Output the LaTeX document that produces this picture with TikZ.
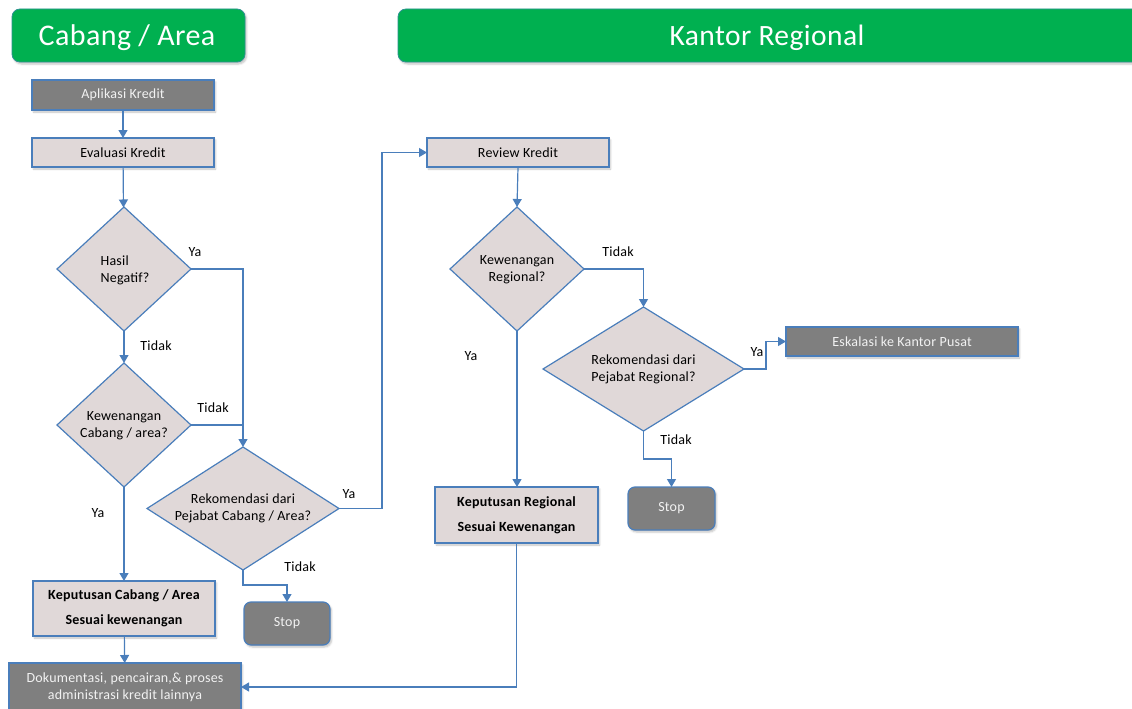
\documentclass[tikz,border=0pt]{standalone}
\usepackage{fontspec}
\setmainfont{Carlito}[LetterSpace=1.5]
\usetikzlibrary{arrows.meta,shapes.geometric,shadows.blur}
\definecolor{hdrgreen}{HTML}{00B050}
\definecolor{edgeblue}{HTML}{4A7EBB}
\definecolor{boxfill}{HTML}{E0D8D8}
\definecolor{darkbox}{HTML}{7F7F7F}
\tikzset{
  header/.style={fill=hdrgreen, draw=edgeblue!60!hdrgreen, line width=0.8pt,
    rounded corners=8pt, text=white, font=\fontsize{30}{32}\selectfont,
    blur shadow={shadow xshift=1.5pt, shadow yshift=-2pt, shadow opacity=25}},
  procbox/.style={rectangle, draw=edgeblue, line width=1.2pt, fill=boxfill,
    inner sep=0pt, outer sep=0pt, font=\fontsize{14}{16}\selectfont,
    blur shadow={shadow xshift=1.5pt, shadow yshift=-2pt, shadow opacity=25}},
  greybox/.style={procbox, fill=darkbox, text=white!95!black},
  stopbox/.style={greybox, rounded corners=7pt},
  decision/.style={diamond, draw=edgeblue, line width=1.2pt, fill=boxfill,
    inner sep=0pt, outer sep=0pt},
  dtext/.style={inner sep=0pt, align=center, font=\fontsize{14}{17}\selectfont},
  arr/.style={draw=edgeblue, line width=1.2pt, -{Triangle[width=9pt,length=8pt]}},
  ln/.style={draw=edgeblue, line width=1.2pt},
  lbl/.style={font=\fontsize{14}{16}\selectfont, inner sep=0pt}
}
\begin{document}
\begin{tikzpicture}[x=1pt,y=-1pt]
\useasboundingbox (0,0) rectangle (1132,709);

% lane headers
\node[header, minimum width=233pt, minimum height=53pt] (hcab) at (128.5,35.5) {};
\node[text=white, font=\fontsize{30}{32}\selectfont, inner sep=0pt] (hcab-t) at (127,37.5) {Cabang / Area};
\node[header, minimum width=750pt, minimum height=53pt] (hreg) at (773,35.5) {};
\node[text=white, font=\fontsize{29.5}{32}\selectfont, inner sep=0pt] (hreg-t) at (767,37.5) {Kantor Regional};

% branch / area lane
\node[greybox, minimum width=182pt, minimum height=30pt] (apl) at (123,95) {Aplikasi Kredit};
\node[procbox, minimum width=182pt, minimum height=29pt] (eva) at (123,152.5) {Evaluasi Kredit};
\node[decision, minimum width=134pt, minimum height=124pt] (hasil) at (124,269) {};
\node[dtext, align=left] (hasil-t) at (125,270.5) {Hasil\\Negatif?};
\node[decision, minimum width=134pt, minimum height=124pt] (kwc) at (124,425) {};
\node[dtext] (kwc-t) at (124,425.5) {Kewenangan\\Cabang / area?};
\node[decision, minimum width=192pt, minimum height=123pt] (rek) at (243,508.5) {};
\node[dtext] (rek-t) at (243,508) {Rekomendasi dari\\Pejabat Cabang / Area?};
\node[stopbox, minimum width=86pt, minimum height=43pt] (stop1) at (287,623.5) {Stop};
\node[procbox, minimum width=182pt, minimum height=55pt, align=center,
  font=\bfseries\fontsize{14}{25}\selectfont] (kcab) at (124,608.5)
  {Keputusan Cabang / Area\\Sesuai kewenangan};
\node[greybox, minimum width=232pt, minimum height=48pt, align=center,
  font=\fontsize{14}{17}\selectfont] (dok) at (125,687)
  {Dokumentasi, pencairan,\& proses\\administrasi kredit lainnya};

% regional office lane
\node[procbox, minimum width=182pt, minimum height=29pt] (rev) at (518,152.5) {Review Kredit};
\node[decision, minimum width=134pt, minimum height=124pt] (kwr) at (517,269) {};
\node[dtext] (kwr-t) at (517,269.5) {Kewenangan\\Regional?};
\node[decision, minimum width=201pt, minimum height=124pt] (rekr) at (643.5,369) {};
\node[dtext] (rekr-t) at (643.5,369.5) {Rekomendasi dari\\Pejabat Regional?};
\node[greybox, minimum width=232pt, minimum height=29pt] (esk) at (902,341.5) {Eskalasi ke Kantor Pusat};
\node[stopbox, minimum width=87pt, minimum height=43pt] (stop2) at (671.5,508.5) {Stop};
\node[procbox, minimum width=163pt, minimum height=56pt, align=center,
  font=\bfseries\fontsize{14}{25}\selectfont] (kreg) at (516.5,515)
  {Keputusan Regional\\Sesuai Kewenangan};

% junction points of the routed connectors
\coordinate (jrek) at (382,508.5);
\coordinate (jrekr) at (766,369);

% connectors
\draw[arr] (apl) -- (eva);
\draw[arr] (eva) -- (hasil);
\draw[arr] (hasil) -- (kwc);
\draw[arr] (hasil.east) -| (rek.north);
\draw[ln] (kwc.east) -- (kwc.east -| rek.north);
\draw[arr] (kwc) -- (kcab);
\draw[arr] (rek.east) -- (jrek) |- (rev.west);
\draw[arr] (rek.south) -- ++(0,15) -| (stop1.north);
\draw[arr] (kcab) -- (dok);
\draw[arr] (rev.south) -- (kwr.north);
\draw[arr] (kwr.east) -| (rekr.north);
\draw[arr] (kwr.south) -- (kreg.north -| kwr.south);
\draw[arr] (rekr.east) -- (jrekr) |- (esk.west);
\draw[arr] (rekr.south) -- ++(0,28) -| (stop2.north);
\draw[arr] (kreg.south) |- (dok.east);

% branch labels
\node[lbl] (l1) at (195,252) {Ya};
\node[lbl] (l2) at (156,346) {Tidak};
\node[lbl] (l3) at (213,408) {Tidak};
\node[lbl] (l4) at (98,513) {Ya};
\node[lbl] (l5) at (349,494) {Ya};
\node[lbl] (l6) at (300,567) {Tidak};
\node[lbl] (l7) at (618,252) {Tidak};
\node[lbl] (l8) at (471,356) {Ya};
\node[lbl] (l9) at (757,352) {Ya};
\node[lbl] (l10) at (676,440) {Tidak};
\end{tikzpicture}
\end{document}
